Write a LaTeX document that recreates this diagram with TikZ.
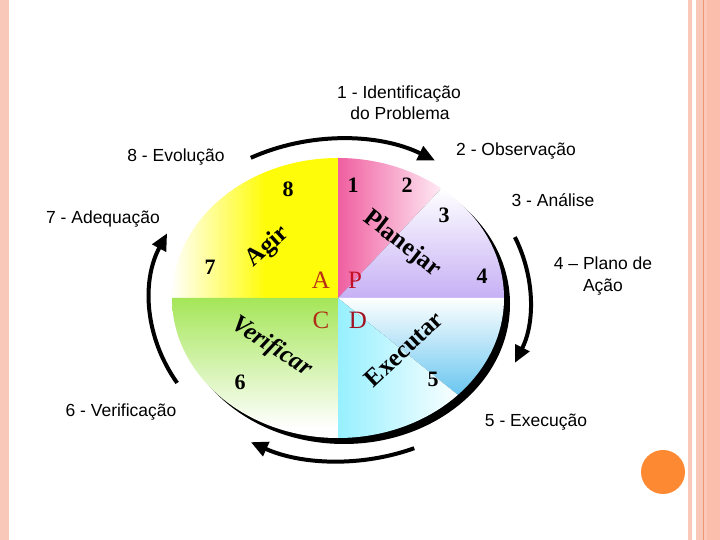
\documentclass[tikz,border=0pt]{standalone}
\usepackage{fontspec}
\setmainfont{Liberation Serif}
\newfontfamily\labfont{Liberation Sans}
\usetikzlibrary{arrows.meta}
\definecolor{bord}{RGB}{250,200,185}
\definecolor{bordtwo}{RGB}{252,190,172}
\definecolor{bordline}{RGB}{238,150,110}
\definecolor{orangec}{RGB}{253,138,50}
\definecolor{yellowc}{RGB}{255,252,10}
\definecolor{pinkc}{RGB}{240,95,160}
\definecolor{pinkw}{RGB}{255,240,248}
\definecolor{lavc}{RGB}{198,176,245}
\definecolor{bluec}{RGB}{105,198,240}
\definecolor{cyanc}{RGB}{150,240,255}
\definecolor{greenc}{RGB}{165,230,88}
\definecolor{letA}{RGB}{185,45,20}
\definecolor{letP}{RGB}{195,15,40}
\definecolor{letC}{RGB}{175,45,20}
\definecolor{letD}{RGB}{160,20,35}
\begin{document}
\begin{tikzpicture}[x=1pt,y=1pt,
  lab/.style={font=\labfont\fontsize{17.5}{21}\selectfont, inner sep=0pt, anchor=base},
  num/.style={font=\fontsize{22}{24}\selectfont\bfseries, inner sep=0pt},
  word/.style={font=\fontsize{25}{28}\selectfont\bfseries, inner sep=0pt},
  letter/.style={font=\fontsize{25}{28}\selectfont, inner sep=0pt},
  cyc/.style={line width=4pt, -{Triangle[length=17pt,width=15pt]}},
  ell/.style={x radius=166, y radius=140},
  arr/.style={x radius=190, y radius=161}
]
\useasboundingbox (0,0) rectangle (720,540);
\fill[white] (0,0) rectangle (720,540);
% borders
\fill[bord] (0,0) rectangle (8.5,540);
\fill[bord] (688,0) rectangle (692,540);
\fill[bord] (696,0) rectangle (720,540);
\fill[bordtwo] (707,0) rectangle (720,540);
\draw[bordline, line width=1pt] (703,0) -- (703,540);
\fill[orangec] (663,68) circle (22);

\coordinate (C) at (338,242);
\coordinate (A) at (340,240);

% shadow
\fill[black] ([shift={(6,-6)}]C) ellipse [x radius=166, y radius=140];

% yellow
\begin{scope}
\clip (C) -- ++(90:166 and 140) arc[start angle=90, end angle=180, ell] -- cycle;
\shade[left color=white, right color=yellowc] (170,240) rectangle (265,385);
\fill[yellowc] (264.5,240) rectangle (340,385);
\end{scope}
% pink
\begin{scope}
\clip (C) -- ++(51.5:166 and 140) arc[start angle=51.5, end angle=90, ell] -- cycle;
\shade[left color=pinkc, right color=pinkw] (338,241) rectangle (446,384);
\end{scope}
% lavender
\begin{scope}
\clip (C) -- ++(0:166 and 140) arc[start angle=0, end angle=51.5, ell] -- cycle;
\shade[top color=white, bottom color=lavc] (337,242) rectangle (506,352);
\end{scope}
% blue
\begin{scope}
\clip (C) -- ++(-43.8:166 and 140) arc[start angle=-43.8, end angle=0, ell] -- cycle;
\shade[top color=white, bottom color=bluec] (337,145) rectangle (506,243);
\end{scope}
% cyan
\begin{scope}
\clip (C) -- ++(-90:166 and 140) arc[start angle=-90, end angle=-43.8, ell] -- cycle;
\shade[left color=cyanc, right color=white] (337,100) rectangle (464,243);
\end{scope}
% green
\begin{scope}
\clip (C) -- ++(180:166 and 140) arc[start angle=180, end angle=270, ell] -- cycle;
\shade[top color=greenc, bottom color=white] (170,112) rectangle (339,242);
\fill[white] (170,100) rectangle (339,112.2);
\end{scope}

% cycle arrows
\draw[cyc] (A) ++(118:190 and 161) arc[start angle=118, end angle=60, arr];
\draw[cyc] (A) ++(23:190 and 161) arc[start angle=23, end angle=-23, arr];
\draw[cyc] (A) ++(-67:190 and 161) arc[start angle=-67, end angle=-118, arr];
\draw[cyc] (A) ++(211:190 and 161) arc[start angle=211, end angle=155.5, arr];

% numbers
\node[num] (n1) at (353,355) {1};
\node[num] (n2) at (407,355) {2};
\node[num] (n3) at (444,325) {3};
\node[num] (n4) at (482,264) {4};
\node[num] (n5) at (433,161) {5};
\node[num] (n6) at (240,158) {6};
\node[num] (n7) at (210,273) {7};
\node[num] (n8) at (288,351) {8};

% PDCA letters
\node[letter, text=letA] (la) at (321,260) {A};
\node[letter, text=letP] (lp) at (355,260) {P};
\node[letter, text=letC] (lc) at (321,220) {C};
\node[letter, text=letD] (ld) at (358,220) {D};

% words
\node[word, rotate=42] (agir) at (268,293) {Agir};
\node[word, rotate=-38] (plan) at (402,296) {Planejar};
\node[word, font=\fontsize{25}{28}\selectfont\bfseries\itshape, rotate=-33] (verif) at (272,193) {Verificar};
\node[word, rotate=43] (exec) at (404,191) {Executar};

% outer labels
\node[lab] (t1a) at (399,441.5) {1 - Identificação};
\node[lab] (t1b) at (400,420.5) {do Problema};
\node[lab] (t2) at (516,384.5) {2 - Observação};
\node[lab] (t3) at (553,333.5) {3 - Análise};
\node[lab] (t4a) at (603,270.5) {4 – Plano de};
\node[lab] (t4b) at (603,248.5) {Ação};
\node[lab] (t5) at (536,113.5) {5 - Execução};
\node[lab] (t6) at (121,123.5) {6 - Verificação};
\node[lab] (t7) at (103,316.5) {7 - Adequação};
\node[lab] (t8) at (176,378.5) {8 - Evolução};
\end{tikzpicture}
\end{document}
